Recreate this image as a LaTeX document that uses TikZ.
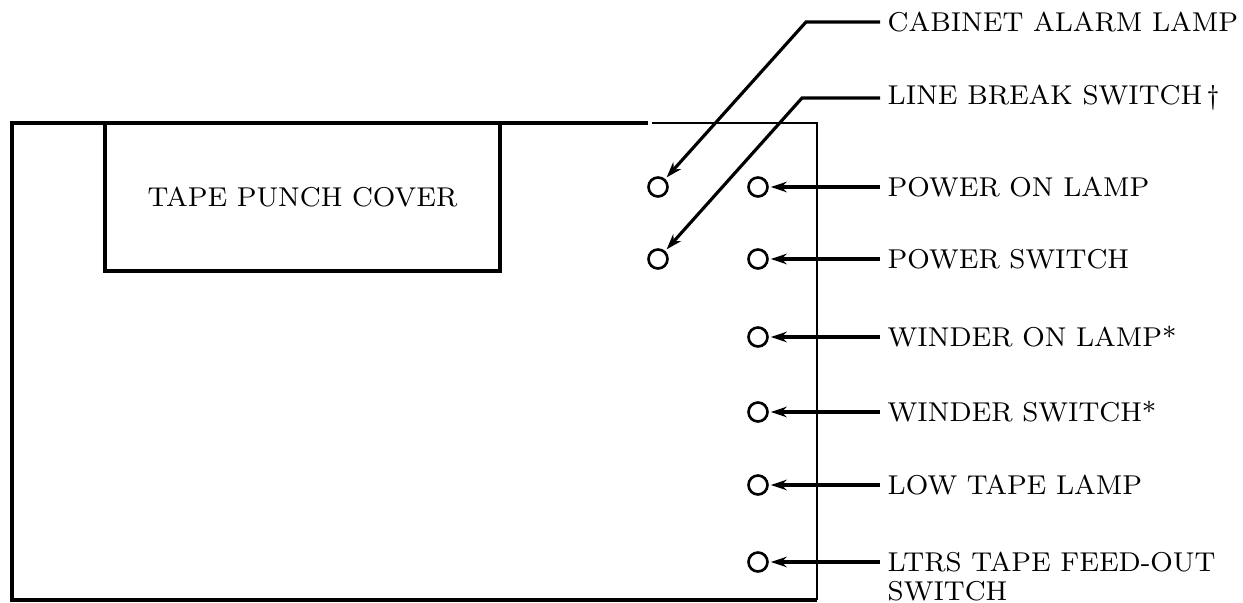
\documentclass[tikz,border=0pt]{standalone}
\usetikzlibrary{arrows.meta}

\begin{document}
\begin{tikzpicture}[
    lamp/.style={circle, draw, line width=0.75pt, minimum size=0.19cm, inner sep=0pt},
    tag/.style={anchor=west, inner sep=2pt, font=\fontsize{7.75}{8.5}\selectfont},
    lead/.style={line width=0.9pt, -{Stealth[length=4.5pt,width=3pt]}, shorten >=0.6pt}]
      \useasboundingbox (0,0) rectangle (12.43,6.03);

      % Cabinet outline
      \draw[line width=1pt] (6.48,4.80) -- (0.12,4.80) -- (0.12,0.03) -- (8.17,0.03);
      \draw[line width=0.75pt] (6.52,4.80) -- (8.17,4.80) -- (8.17,0.03);

      % Nodes
      \node (cover) at (3.025,4.06) [rectangle, draw, line width=1pt, minimum width=3.95cm, minimum height=1.48cm, font=\fontsize{7.75}{8.5}\selectfont] {TAPE PUNCH COVER};

      \node (alarm) at (6.58,4.16) [lamp] {};
      \node (brk) at (6.58,3.44) [lamp] {};
      \node (pwrlamp) at (7.58,4.16) [lamp] {};
      \node (pwrsw) at (7.58,3.44) [lamp] {};
      \node (windlamp) at (7.58,2.66) [lamp] {};
      \node (windsw) at (7.58,1.91) [lamp] {};
      \node (lowlamp) at (7.58,1.18) [lamp] {};
      \node (feedsw) at (7.58,0.41) [lamp] {};

      \node (alarmtag) at (8.80,5.81) [tag] {CABINET ALARM LAMP};
      \node (brktag) at (8.80,5.05) [tag] {LINE BREAK SWITCH\,\textdagger};
      \node (pwrlamptag) at (8.80,4.16) [tag] {POWER ON LAMP};
      \node (pwrswtag) at (8.80,3.44) [tag] {POWER SWITCH};
      \node (windlamptag) at (8.80,2.66) [tag] {WINDER ON LAMP*};
      \node (windswtag) at (8.80,1.91) [tag] {WINDER SWITCH*};
      \node (lowlamptag) at (8.80,1.18) [tag] {LOW TAPE LAMP};
      \node (feedswtag) at (8.80,0.265) [tag, align=left] {LTRS TAPE FEED-OUT\\SWITCH};

      \coordinate (alarmbend) at (8.06,5.81);
      \coordinate (brkbend) at (8.02,5.05);

      % Edges
      \draw[lead] (alarmtag.west) -- (alarmbend) -- (alarm);
      \draw[lead] (brktag.west) -- (brkbend) -- (brk);
      \draw[lead] (pwrlamptag.west) -- (pwrlamp);
      \draw[lead] (pwrswtag.west) -- (pwrsw);
      \draw[lead] (windlamptag.west) -- (windlamp);
      \draw[lead] (windswtag.west) -- (windsw);
      \draw[lead] (lowlamptag.west) -- (lowlamp);
      \draw[lead] (feedswtag.west |- feedsw) -- (feedsw);
\end{tikzpicture}
\end{document}
